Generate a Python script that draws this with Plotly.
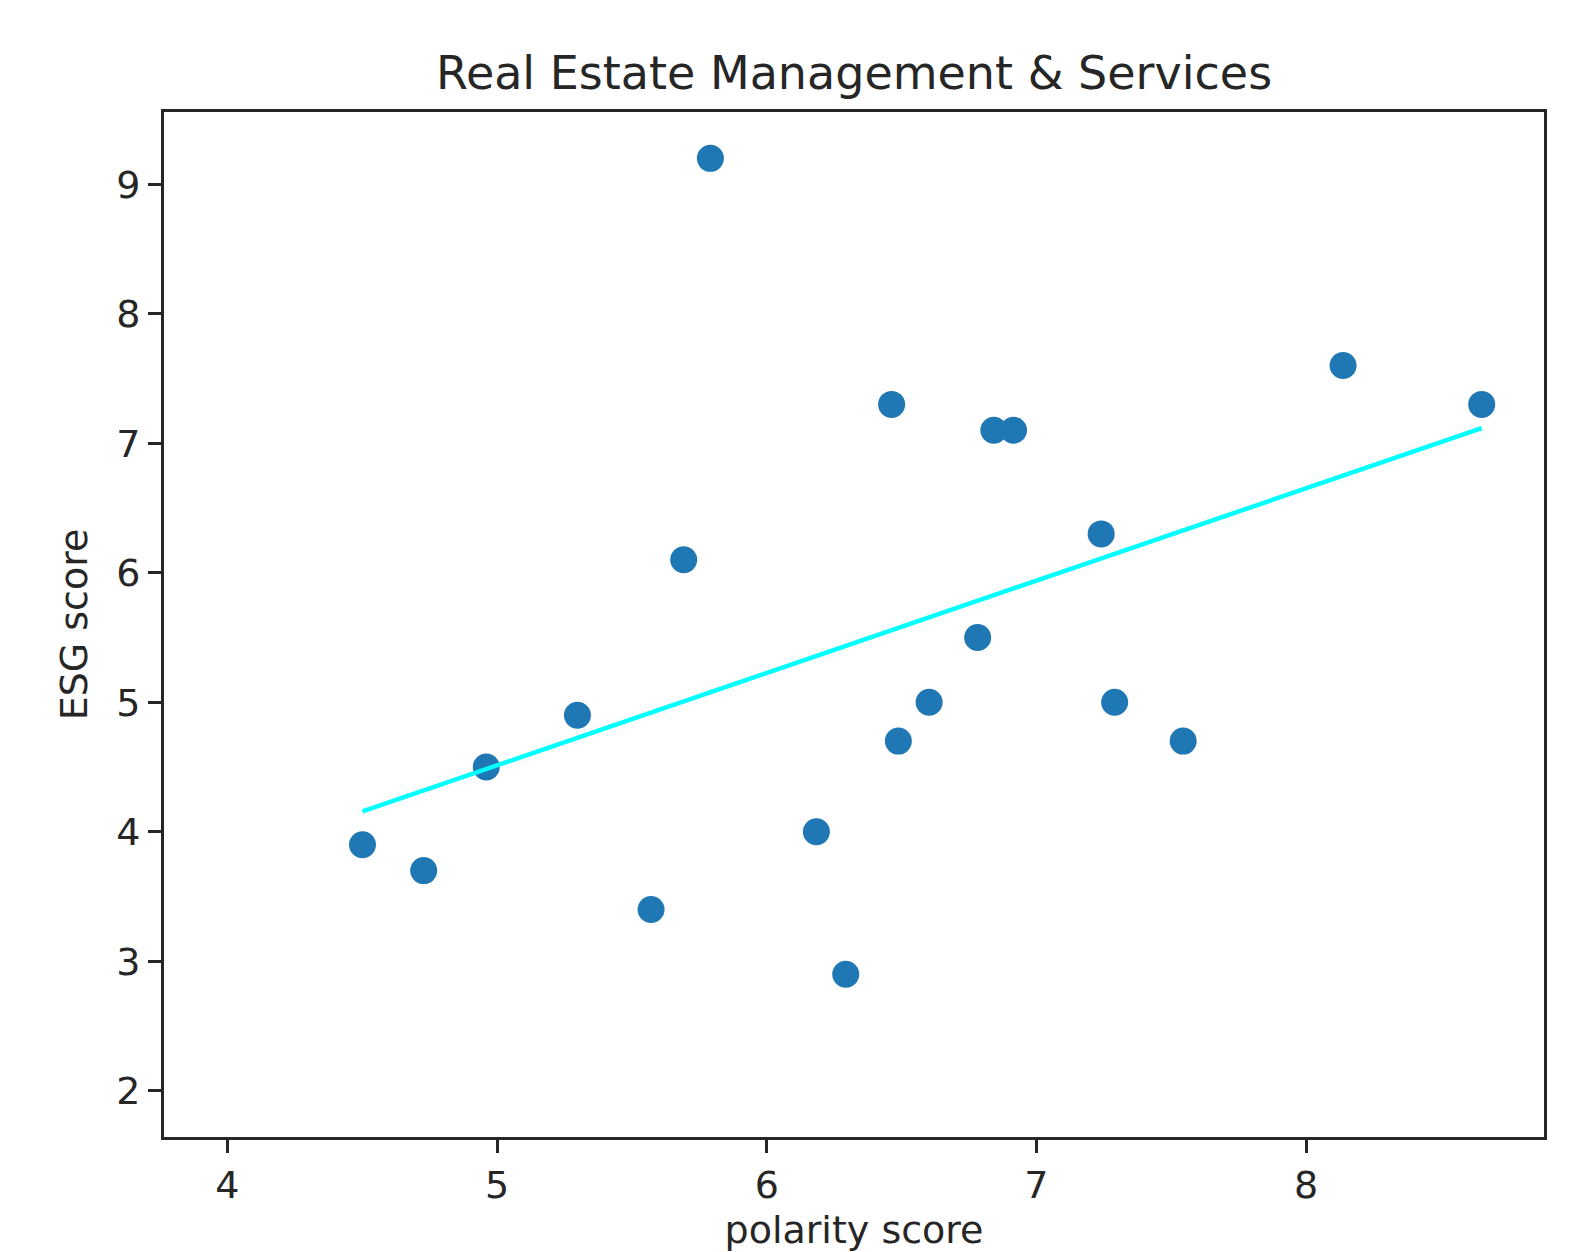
import numpy as np
import plotly.graph_objects as go

polarity = [4.501, 4.728, 4.960, 5.298, 5.571, 5.692, 5.791, 6.184, 6.293, 6.463,
            6.488, 6.602, 6.782, 6.842, 6.915, 7.240, 7.290, 7.544, 8.137, 8.651]
esg = [3.9, 3.7, 4.5, 4.9, 3.4, 6.1, 9.2, 4.0, 2.9, 7.3,
       4.7, 5.0, 5.5, 7.1, 7.1, 6.3, 5.0, 4.7, 7.6, 7.3]
x_ticks = [4, 5, 6, 7, 8]
y_ticks = [2, 3, 4, 5, 6, 7, 8, 9]

x = np.array(polarity)
y = np.array(esg)
slope, intercept = np.polyfit(x, y, 1)
xs = np.sort(x)
fit = slope * xs + intercept

INK = "#262626"
FONT = "DejaVu Sans"

fig = go.Figure()
fig.add_trace(go.Scatter(x=x, y=y, mode="markers",
                         marker=dict(color="#1f77b4", size=27, line=dict(width=0)),
                         showlegend=False))
fig.add_trace(go.Scatter(x=xs, y=fit, mode="lines",
                         line=dict(color="#00ffff", width=4.5),
                         showlegend=False))

axis_common = dict(showgrid=False, zeroline=False, showline=True, linecolor=INK,
                   linewidth=2.7, mirror=True, ticks="outside", ticklen=13,
                   tickwidth=2.7, tickcolor=INK, automargin=False,
                   tickfont=dict(family=FONT, size=38, color=INK))

fig.update_layout(
    width=1591, height=1252,
    margin=dict(l=164, r=47, t=112, b=115),
    paper_bgcolor="white", plot_bgcolor="white",
    title=dict(text="Real Estate Management & Services", x=0.5368, xanchor="center",
               y=1 - 89 / 1252, yanchor="bottom", yref="container",
               font=dict(family=FONT, size=46, color=INK)),
    xaxis=dict(range=[3.765, 8.882], tickvals=x_ticks,
               title=dict(text="polarity score", standoff=14,
                          font=dict(family=FONT, size=38, color=INK)),
               **axis_common),
    yaxis=dict(range=[1.643, 9.558], tickvals=y_ticks,
               title=dict(text="ESG score", standoff=18,
                          font=dict(family=FONT, size=38, color=INK)),
               **axis_common),
)

fig.write_html("out.html")
